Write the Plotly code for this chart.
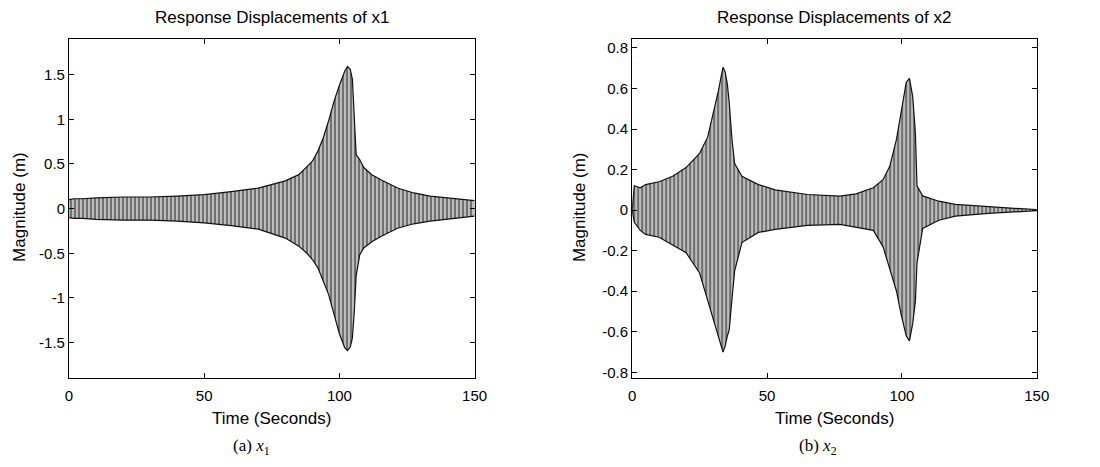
import plotly.graph_objects as go

# ---- data (envelopes) ----
t1 = [0, 2, 5, 10, 20, 30, 40, 50, 60, 70, 80, 85, 88, 90, 92, 94, 96, 98, 100,
      102, 103, 104, 104.8, 105.5, 106.2, 107.5, 109, 112, 115.5, 121.5, 127.5,
      133.5, 140, 145, 150]
x1_upper = [0.1, 0.11, 0.11, 0.12, 0.13, 0.13, 0.14, 0.156, 0.19, 0.23, 0.31, 0.38,
            0.47, 0.53, 0.64, 0.79, 0.98, 1.2, 1.38, 1.54, 1.59, 1.56, 1.45, 1.0,
            0.6, 0.55, 0.46, 0.38, 0.32, 0.23, 0.175, 0.14, 0.12, 0.1, 0.09]
x1_lower = [-0.1, -0.11, -0.11, -0.12, -0.13, -0.13, -0.14, -0.16, -0.19, -0.23,
            -0.33, -0.42, -0.5, -0.57, -0.66, -0.8, -0.96, -1.18, -1.4, -1.56,
            -1.59, -1.55, -1.45, -1.15, -0.75, -0.52, -0.44, -0.37, -0.31, -0.22,
            -0.17, -0.14, -0.12, -0.1, -0.085]

t2 = [0, 0.8, 3, 5, 10, 15, 20, 25, 28, 30, 32, 33, 33.7, 34.5, 35.3, 36, 37, 38,
      40.7, 46.8, 53, 65, 77, 83, 89.4, 93, 95.5, 98, 99.8, 101.6, 102.8, 104,
      105, 105.6, 107.7, 113.7, 119.8, 132, 144, 150]
x2_upper = [0, 0.12, 0.11, 0.126, 0.14, 0.167, 0.21, 0.28, 0.36, 0.47, 0.59, 0.66,
            0.705, 0.68, 0.62, 0.53, 0.35, 0.23, 0.167, 0.126, 0.10, 0.077, 0.069,
            0.08, 0.11, 0.15, 0.216, 0.35, 0.5, 0.63, 0.65, 0.56, 0.38, 0.12, 0.07,
            0.044, 0.028, 0.016, 0.007, 0.003]
x2_lower = [0, -0.06, -0.1, -0.12, -0.134, -0.17, -0.21, -0.31, -0.45, -0.53,
            -0.63, -0.67, -0.70, -0.67, -0.62, -0.59, -0.44, -0.3, -0.16, -0.11,
            -0.095, -0.075, -0.07, -0.085, -0.1, -0.18, -0.29, -0.4, -0.52, -0.62,
            -0.645, -0.56, -0.45, -0.26, -0.09, -0.05, -0.03, -0.016, -0.007, -0.003]

x_ticks = [0, 50, 100, 150]
y1_ticks = [-1.5, -1, -0.5, 0, 0.5, 1, 1.5]
y1_labels = ["-1.5", "-1", "-0.5", "0", "0.5", "1", "1.5"]
y2_ticks = [-0.8, -0.6, -0.4, -0.2, 0, 0.2, 0.4, 0.6, 0.8]
y2_labels = ["-0.8", "-0.6", "-0.4", "-0.2", "0", "0.2", "0.4", "0.6", "0.8"]

titles = ["Response Displacements of x1", "Response Displacements of x2"]
captions = ["(a) <i>x</i><sub>1</sub>", "(b) <i>x</i><sub>2</sub>"]

W, H = 1100, 467
SANS = "Liberation Sans, Arial, sans-serif"
SERIF = "Liberation Serif, Times New Roman, serif"

fig = go.Figure()


def add_band(t, up, lo, xa, ya):
    fig.add_trace(go.Scatter(x=t, y=up, mode="lines",
                             line=dict(color="#111", width=1.2),
                             xaxis=xa, yaxis=ya, showlegend=False,
                             hoverinfo="skip"))
    fig.add_trace(go.Scatter(x=t, y=lo, mode="lines",
                             line=dict(color="#111", width=1.2),
                             fill="tonexty", fillcolor="#b8b8b8",
                             fillpattern=dict(shape="|", fgcolor="#222222",
                                              bgcolor="#bdbdbd", size=4,
                                              solidity=0.5),
                             xaxis=xa, yaxis=ya, showlegend=False,
                             hoverinfo="skip"))


add_band(t1, x1_upper, x1_lower, "x", "y")
add_band(t2, x2_upper, x2_lower, "x2", "y2")

ydom = [(H - 380) / H, (H - 39) / H]
common = dict(showline=True, linecolor="black", linewidth=1, mirror="ticks",
              ticks="inside", ticklen=5, tickcolor="black", showgrid=False,
              zeroline=False, tickfont=dict(family=SANS, size=15, color="black"))

fig.update_layout(
    width=W, height=H,
    margin=dict(l=0, r=0, t=0, b=0),
    paper_bgcolor="white", plot_bgcolor="white",
    xaxis=dict(domain=[66 / W, 478 / W], range=[0, 150], tickvals=x_ticks,
               anchor="y", ticklabelstandoff=4, **common),
    yaxis=dict(domain=ydom, range=[-1.9, 1.9], tickvals=y1_ticks,
               ticktext=y1_labels, anchor="x", **common),
    xaxis2=dict(domain=[638 / W, 1049 / W], range=[0, 150], tickvals=x_ticks,
                anchor="y2", ticklabelstandoff=4, **common),
    yaxis2=dict(domain=ydom, range=[-0.83, 0.845], tickvals=y2_ticks,
                ticktext=y2_labels, anchor="x2", **common),
)

ann = []
centers = [(66 + 478) / 2, (638 + 1049) / 2]
ylab_x = [15, 584]
cap_x = [251, 827]
for i in range(2):
    ann.append(dict(text=titles[i], x=centers[i] / W, y=1 - 18 / H, xref="paper",
                    yref="paper", showarrow=False, xanchor="center",
                    yanchor="middle", font=dict(family=SANS, size=17, color="black")))
    ann.append(dict(text="Time (Seconds)", x=centers[i] / W, y=1 - 420 / H,
                    xref="paper", yref="paper", showarrow=False,
                    xanchor="center", yanchor="middle",
                    font=dict(family=SANS, size=17, color="black")))
    ann.append(dict(text="Magnitude (m)", x=ylab_x[i] / W, y=1 - 208 / H,
                    xref="paper", yref="paper", showarrow=False, textangle=-90,
                    xanchor="center", yanchor="middle",
                    font=dict(family=SANS, size=17, color="black")))
    ann.append(dict(text=captions[i], x=cap_x[i] / W, y=1 - 449 / H,
                    xref="paper", yref="paper", showarrow=False,
                    xanchor="center", yanchor="middle",
                    font=dict(family=SERIF, size=17, color="black")))
fig.update_layout(annotations=ann)

fig.write_html("out.html")
